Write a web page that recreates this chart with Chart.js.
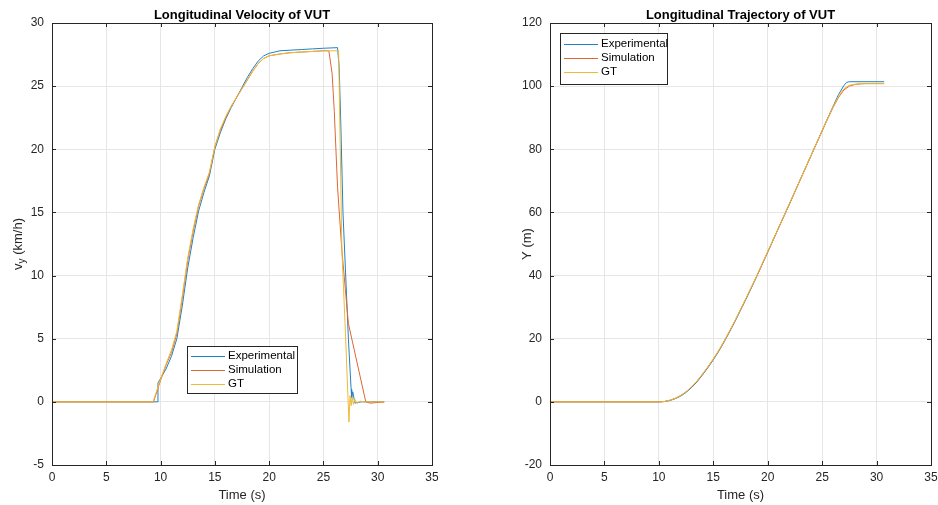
<!DOCTYPE html>
<html>
<head>
<meta charset="utf-8">
<script src="https://cdn.jsdelivr.net/npm/chart.js@4.4.1/dist/chart.umd.min.js"></script>
<style>
  body { margin: 0; background: #fff; }
  .wrap { position: absolute; top: 0; width: 469px; height: 505px; }
  #left { left: 0; }
  #right { left: 469px; }
</style>
</head>
<body>
<div class="wrap" id="left"><canvas id="velChart" width="469" height="505"></canvas></div>
<div class="wrap" id="right"><canvas id="trajChart" width="469" height="505"></canvas></div>
<script>
// Longitudinal velocity (km/h) vs time (s)
const velTimeExp = [0, 5, 9.75, 9.76, 10.5, 11, 11.5, 12, 12.5, 13, 13.5, 14, 14.5, 15, 15.5, 16, 16.5, 17, 17.5, 18, 18.5, 19, 19.5, 20, 21, 22, 23, 24, 25, 26.3, 26.45, 26.6, 26.8, 27.0, 27.3, 27.55, 27.6, 27.7, 27.9, 28.5, 30.6];
const velExp     = [0, 0, 0, 1.5, 2.6, 3.6, 5.0, 7.6, 10.6, 13.0, 15.1, 16.6, 17.9, 20.0, 21.3, 22.4, 23.3, 24.1, 24.9, 25.7, 26.4, 27.0, 27.4, 27.6, 27.8, 27.85, 27.9, 27.95, 28.0, 28.05, 26.5, 22, 15, 11, 5, 1, 0.3, 0.8, -0.1, 0, 0];

const velTimeSim = [0, 5, 9.35, 10, 10.5, 11, 11.5, 12, 12.5, 13, 13.5, 14, 14.5, 15, 15.5, 16, 16.5, 17, 17.5, 18, 18.5, 19, 19.5, 20, 21, 22, 23, 24, 25, 25.5, 25.8, 26.0, 26.3, 26.7, 27.3, 28.9, 29.3, 30.6];
const velSim     = [0, 0, 0, 1.7, 2.9, 3.9, 5.4, 8.2, 11.2, 13.5, 15.5, 16.9, 18.1, 20.2, 21.5, 22.5, 23.4, 24.1, 24.8, 25.5, 26.2, 26.8, 27.2, 27.4, 27.55, 27.65, 27.7, 27.75, 27.8, 27.8, 26, 23, 17, 12, 6.2, 0, -0.1, 0];

const velTimeGT  = [0, 5, 9.3, 10, 10.5, 11, 11.5, 12, 12.5, 13, 13.5, 14, 14.5, 15, 15.5, 16, 16.5, 17, 17.5, 18, 18.5, 19, 19.5, 20, 21, 22, 23, 24, 25, 26.4, 26.55, 26.7, 27.0, 27.35, 27.45, 27.55, 27.65, 27.75, 27.9, 28.1, 28.4, 28.8, 30.6];
const velGT      = [0, 0, 0, 1.8, 3.0, 4.1, 5.6, 8.4, 11.4, 13.7, 15.6, 17.0, 18.2, 20.2, 21.6, 22.6, 23.4, 24.1, 24.8, 25.5, 26.2, 26.8, 27.2, 27.4, 27.55, 27.65, 27.7, 27.75, 27.8, 27.8, 20, 12, 6, -1.6, 0.5, -0.3, 0.4, -0.2, 0.2, -0.1, 0.05, 0, 0];

// Longitudinal trajectory Y (m) vs time (s)
const trajTimeExp = [0, 10.1, 10.5, 11, 11.5, 12, 12.5, 13, 13.5, 14, 14.5, 15, 15.5, 16, 16.5, 17, 17.5, 18, 18.5, 19, 19.5, 20, 21, 22, 23, 24, 25, 25.5, 26, 26.5, 27, 27.25, 27.5, 30.7];
const trajExp     = [0, 0, 0.1, 0.4, 1.0, 1.8, 3.0, 4.5, 6.3, 8.5, 10.8, 13.3, 16.0, 19.0, 22.2, 25.5, 29.0, 32.5, 36.1, 39.8, 43.6, 47.4, 55.1, 62.8, 70.5, 78.2, 85.9, 89.8, 93.6, 97.3, 100.2, 101.2, 101.4, 101.4];

const trajTimeSim = [0, 10.1, 10.5, 11, 11.5, 12, 12.5, 13, 13.5, 14, 14.5, 15, 15.5, 16, 16.5, 17, 17.5, 18, 18.5, 19, 19.5, 20, 21, 22, 23, 24, 25, 25.5, 26, 26.5, 27, 27.5, 28, 28.5, 29, 30.7];
const trajSim     = [0, 0, 0.1, 0.5, 1.1, 2.0, 3.2, 4.7, 6.5, 8.7, 11.0, 13.5, 16.2, 19.2, 22.4, 25.7, 29.2, 32.7, 36.3, 39.9, 43.7, 47.5, 55.1, 62.6, 70.4, 78.1, 85.8, 89.6, 93.2, 96.4, 98.8, 100.0, 100.5, 100.7, 100.8, 100.8];

const trajTimeGT  = [0, 10.1, 10.5, 11, 11.5, 12, 12.5, 13, 13.5, 14, 14.5, 15, 15.5, 16, 16.5, 17, 17.5, 18, 18.5, 19, 19.5, 20, 21, 22, 23, 24, 25, 25.5, 26, 26.5, 27, 27.5, 28, 28.5, 29, 30.7];
const trajGT      = [0, 0, 0.1, 0.5, 1.1, 2.0, 3.2, 4.8, 6.6, 8.8, 11.1, 13.6, 16.3, 19.3, 22.5, 25.8, 29.3, 32.8, 36.4, 40.0, 43.8, 47.6, 55.2, 62.8, 70.5, 78.2, 85.9, 89.7, 93.4, 96.7, 99.2, 100.3, 100.6, 100.8, 100.8, 100.8];

const seriesNames = ['Experimental', 'Simulation', 'GT'];
const seriesColors = ['#1f82c6', '#de6635', '#efbb36'];

const FONT = '"Liberation Sans", Arial, sans-serif';

function toPoints(xs, ys) {
    return xs.map((x, i) => ({ x: x, y: ys[i] }));
}

// box, titles and inside legend, drawn the matlab way
const matlabPlot = {
    id: 'matlabPlot',
    afterDraw(chart, args, opts) {
        const ctx = chart.ctx;
        const a = chart.chartArea;
        ctx.save();
        ctx.strokeStyle = '#262626';
        ctx.lineWidth = 1;
        ctx.strokeRect(Math.round(a.left) + 0.5, Math.round(a.top) + 0.5, Math.round(a.right - a.left), Math.round(a.bottom - a.top));

        // small inward ticks
        const xs = chart.scales.x, ys = chart.scales.y;
        ctx.beginPath();
        xs.ticks.forEach(t => {
            const px = Math.round(xs.getPixelForValue(t.value)) + 0.5;
            ctx.moveTo(px, a.bottom); ctx.lineTo(px, a.bottom - 4);
            ctx.moveTo(px, a.top); ctx.lineTo(px, a.top + 4);
        });
        ys.ticks.forEach(t => {
            const py = Math.round(ys.getPixelForValue(t.value)) + 0.5;
            ctx.moveTo(a.left, py); ctx.lineTo(a.left + 4, py);
            ctx.moveTo(a.right, py); ctx.lineTo(a.right - 4, py);
        });
        ctx.stroke();

        const cx = (a.left + a.right) / 2;
        ctx.fillStyle = '#000';
        ctx.textAlign = 'center';
        ctx.textBaseline = 'middle';
        ctx.font = 'bold 13px ' + FONT;
        ctx.fillText(opts.title, cx, 15);

        ctx.fillStyle = '#262626';
        ctx.font = '13px ' + FONT;
        ctx.fillText('Time (s)', cx, 495);

        // y axis title, rotated
        ctx.save();
        ctx.translate(opts.yTitleX, (a.top + a.bottom) / 2);
        ctx.rotate(-Math.PI / 2);
        if (opts.ySub) {
            const main = opts.yTitle[0], sub = opts.ySub, rest = opts.yTitle[1];
            ctx.font = '13px ' + FONT;
            const w1 = ctx.measureText(main).width;
            const w3 = ctx.measureText(rest).width;
            ctx.font = '10px ' + FONT;
            const w2 = ctx.measureText(sub).width;
            const x0 = -(w1 + w2 + w3) / 2;
            ctx.textAlign = 'left';
            ctx.font = '13px ' + FONT;
            ctx.fillText(main, x0, 0);
            ctx.font = '10px ' + FONT;
            ctx.fillText(sub, x0 + w1, 4);
            ctx.font = '13px ' + FONT;
            ctx.fillText(rest, x0 + w1 + w2, 0);
        } else {
            ctx.fillText(opts.yTitle, 0, 0);
        }
        ctx.restore();

        // legend box
        const L = opts.legend;
        ctx.fillStyle = '#fff';
        ctx.fillRect(L.x, L.y, L.w, L.h);
        ctx.strokeStyle = '#262626';
        ctx.strokeRect(L.x + 0.5, L.y + 0.5, L.w, L.h);
        ctx.font = '11.5px ' + FONT;
        ctx.textAlign = 'left';
        ctx.textBaseline = 'middle';
        ctx.lineWidth = 1;
        seriesNames.forEach((name, i) => {
            const ry = L.y + L.first + i * 14;
            ctx.strokeStyle = seriesColors[i];
            ctx.beginPath();
            ctx.moveTo(L.x + 4, ry + 0.5);
            ctx.lineTo(L.x + 38, ry + 0.5);
            ctx.stroke();
            ctx.fillStyle = '#000';
            ctx.fillText(name, L.x + 41, ry);
        });
        ctx.restore();
    }
};

function makeDatasets(sets) {
    return sets.map((pts, i) => ({
        label: seriesNames[i],
        data: pts,
        borderColor: seriesColors[i],
        borderWidth: 1,
        pointRadius: 0,
        tension: 0,
        order: 3 - i
    }));
}

function createChart(canvasId, datasets, yMin, yMax, yStep, yWidth, rightPad, plotOpts) {
    const ctx = document.getElementById(canvasId).getContext('2d');
    return new Chart(ctx, {
        type: 'line',
        data: { datasets: datasets },
        options: {
            responsive: false,
            animation: false,
            events: [],
            layout: { padding: { top: 23, right: rightPad, left: 0, bottom: 0 } },
            plugins: {
                legend: { display: false },
                tooltip: { enabled: false },
                matlabPlot: plotOpts
            },
            scales: {
                x: {
                    type: 'linear',
                    min: 0, max: 35,
                    ticks: { stepSize: 5, color: '#262626', padding: 5, font: { size: 12, family: FONT } },
                    grid: { color: '#e6e6e6', drawTicks: false },
                    border: { display: false },
                    afterFit: s => { s.height = 40; s.paddingRight = 0; }
                },
                y: {
                    min: yMin, max: yMax,
                    ticks: { stepSize: yStep, color: '#262626', padding: 8, font: { size: 12, family: FONT } },
                    grid: { color: '#e6e6e6', drawTicks: false },
                    border: { display: false },
                    afterFit: s => { s.width = yWidth; }
                }
            }
        },
        plugins: [matlabPlot]
    });
}

createChart('velChart', makeDatasets([
    toPoints(velTimeExp, velExp),
    toPoints(velTimeSim, velSim),
    toPoints(velTimeGT, velGT)
]), -5, 30, 5, 52, 37, {
    title: 'Longitudinal Velocity of VUT',
    yTitle: ['v', ' (km/h)'], ySub: 'y', yTitleX: 18,
    legend: { x: 187, y: 346, w: 110, h: 47, first: 10 }
});

createChart('trajChart', makeDatasets([
    toPoints(trajTimeExp, trajExp),
    toPoints(trajTimeSim, trajSim),
    toPoints(trajTimeGT, trajGT)
]), -20, 120, 20, 81, 7, {
    title: 'Longitudinal Trajectory of VUT',
    yTitle: 'Y (m)', yTitleX: 58,
    legend: { x: 91, y: 33, w: 107, h: 51, first: 11 }
});
</script>
</body>
</html>
